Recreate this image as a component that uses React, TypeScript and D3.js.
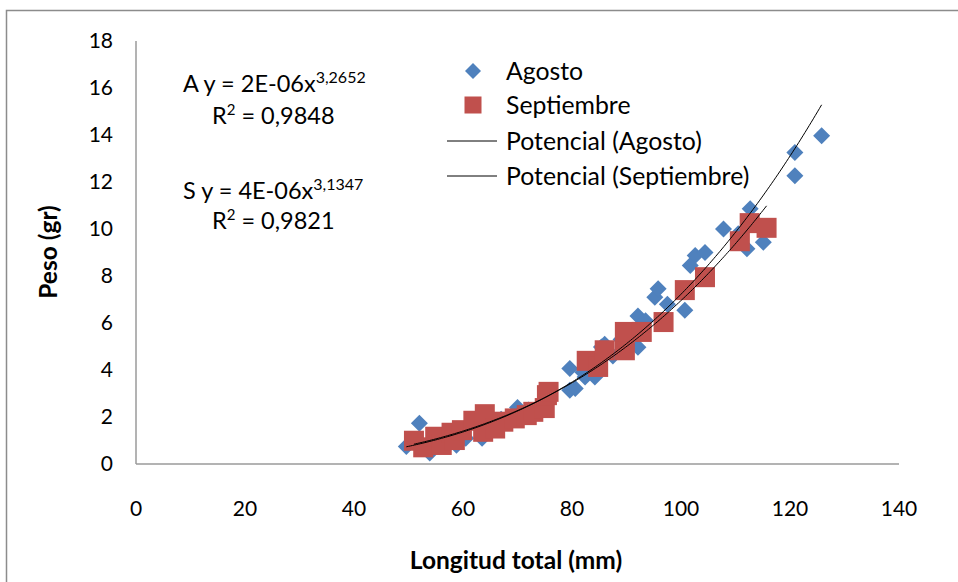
import React from "react";
import * as d3 from "d3";

// ---- data ----
const agostoX = [49.6, 52.0, 53.9, 55.5, 58.8, 60.5, 63.5, 64.6, 67.0, 70.0, 72.0, 75.5, 79.6, 79.6, 80.6, 82.0, 82.4, 84.2, 85.4, 86.0, 87.5, 89.0, 92.1, 92.1, 93.5, 95.2, 95.8, 97.5, 100.7, 101.7, 102.6, 104.4, 107.8, 110.5, 112.1, 112.7, 115.1, 120.9, 120.9, 125.8];
const agostoY = [0.75, 1.73, 0.47, 0.9, 0.8, 1.1, 1.1, 1.6, 1.9, 2.4, 2.3, 2.7, 3.14, 4.06, 3.21, 3.9, 3.7, 3.7, 4.98, 5.1, 4.6, 5.3, 4.97, 6.3, 6.1, 7.1, 7.46, 6.8, 6.54, 8.45, 8.87, 9.0, 10.0, 9.8, 9.16, 10.86, 9.44, 13.26, 12.27, 13.97];

const septX = [51.0, 52.7, 54.9, 56.1, 57.9, 58.5, 59.8, 61.9, 63.7, 64.0, 65.9, 67.4, 69.5, 71.7, 72.9, 75.0, 75.4, 75.7, 82.7, 84.8, 86.0, 89.7, 89.7, 92.8, 96.8, 100.7, 104.4, 110.8, 112.6, 115.7];
const septY = [0.99, 0.71, 1.16, 0.81, 1.33, 1.02, 1.44, 1.84, 1.37, 2.12, 1.51, 1.8, 1.94, 2.08, 2.22, 2.38, 2.93, 3.07, 4.39, 4.13, 4.84, 4.84, 5.62, 5.62, 6.04, 7.4, 7.95, 9.48, 10.25, 10.05];

// power trendlines y = a * x^b
const agostoFit = { a: 2.13e-6, b: 3.2652 };
const septFit = { a: 3.74e-6, b: 3.1347 };

const xTicks = [0, 20, 40, 60, 80, 100, 120, 140];
const yTicks = [0, 2, 4, 6, 8, 10, 12, 14, 16, 18];

const legendLabels = ["Agosto", "Septiembre", "Potencial (Agosto)", "Potencial (Septiembre)"];

const BLUE = "#4F81BD";
const RED = "#C0504D";
const FONT = "Lato, 'Noto Sans', sans-serif";

export default function App() {
  const W = 958, H = 582;
  const x = d3.scaleLinear().domain([0, 140]).range([136, 899]);
  const y = d3.scaleLinear().domain([0, 18]).range([464, 41]);

  const fitPath = (fit: { a: number; b: number }, xs: number[]) => {
    const lo = d3.min(xs) as number, hi = d3.max(xs) as number;
    const pts = d3.range(0, 201).map((i) => lo + ((hi - lo) * i) / 200);
    return d3.line<number>().x((v) => x(v)).y((v) => y(fit.a * Math.pow(v, fit.b)))(pts) || "";
  };

  const diamond = (cx: number, cy: number, r: number) =>
    `M${cx},${cy - r}L${cx + r},${cy}L${cx},${cy + r}L${cx - r},${cy}Z`;

  const legX = 473, legTextX = 506;
  const legY = [71, 105, 141, 176];

  return (
    <svg width={W} height={H} style={{ position: "absolute", left: 0, top: 0, background: "#fff" }} fontFamily={FONT}>
      <rect x={0} y={0} width={W} height={H} fill="#fff" />
      {/* outer chart border */}
      <path d={`M6.5,${H}V10.5H${W}`} fill="none" stroke="#8c8c8c" strokeWidth={1.5} />

      {/* axes */}
      <line x1={x(0)} x2={x(0)} y1={y(18)} y2={y(0)} stroke="#9a9a9a" strokeWidth={1.5} />
      <line x1={x(0)} x2={x(140)} y1={y(0)} y2={y(0)} stroke="#9a9a9a" strokeWidth={1.5} />

      {yTicks.map((t) => (
        <text key={"y" + t} x={113} y={y(t)} dy="0.35em" textAnchor="end" fontSize={21} fill="#000">
          {t}
        </text>
      ))}
      {xTicks.map((t) => (
        <text key={"x" + t} x={x(t)} y={509} dy="0.35em" textAnchor="middle" fontSize={21} fill="#000">
          {t}
        </text>
      ))}

      <text transform={`translate(48,252) rotate(-90)`} textAnchor="middle" dy="0.35em" fontSize={24.5} fontWeight="bold">
        Peso (gr)
      </text>
      <text x={516} y={560} textAnchor="middle" dy="0.35em" fontSize={24.5} fontWeight="bold">
        Longitud total (mm)
      </text>

      {/* Agosto diamonds */}
      {agostoX.map((v, i) => (
        <path key={"a" + i} d={diamond(x(v), y(agostoY[i]), 8.5)} fill={BLUE} />
      ))}
      {/* Septiembre squares */}
      {septX.map((v, i) => (
        <rect key={"s" + i} x={x(v) - 10} y={y(septY[i]) - 10} width={20} height={20} fill={RED} />
      ))}

      {/* trendlines */}
      <path d={fitPath(agostoFit, agostoX)} fill="none" stroke="#000" strokeWidth={1} />
      <path d={fitPath(septFit, septX)} fill="none" stroke="#000" strokeWidth={1} />

      {/* equations */}
      <text x={183} y={92} fontSize={23.5}>
        A y = 2E-06x<tspan dy={-9} fontSize={16}>3,2652</tspan>
      </text>
      <text x={212} y={124} fontSize={23.5}>
        R<tspan dy={-9} fontSize={15}>2</tspan><tspan dy={9}> = 0,9848</tspan>
      </text>
      <text x={183} y={199} fontSize={23.5}>
        S y = 4E-06x<tspan dy={-9} fontSize={16}>3,1347</tspan>
      </text>
      <text x={212} y={229} fontSize={23.5}>
        R<tspan dy={-9} fontSize={15}>2</tspan><tspan dy={9}> = 0,9821</tspan>
      </text>

      {/* legend */}
      <path d={diamond(legX, legY[0], 8)} fill={BLUE} />
      <rect x={legX - 8.5} y={legY[1] - 8.5} width={17} height={17} fill={RED} />
      <line x1={447} x2={497} y1={legY[2]} y2={legY[2]} stroke="#000" strokeWidth={1} />
      <line x1={447} x2={497} y1={legY[3]} y2={legY[3]} stroke="#000" strokeWidth={1} />
      {legendLabels.map((l, i) => (
        <text key={l} x={legTextX} y={legY[i]} dy="0.35em" fontSize={24.8} fill="#000">
          {l}
        </text>
      ))}
    </svg>
  );
}
